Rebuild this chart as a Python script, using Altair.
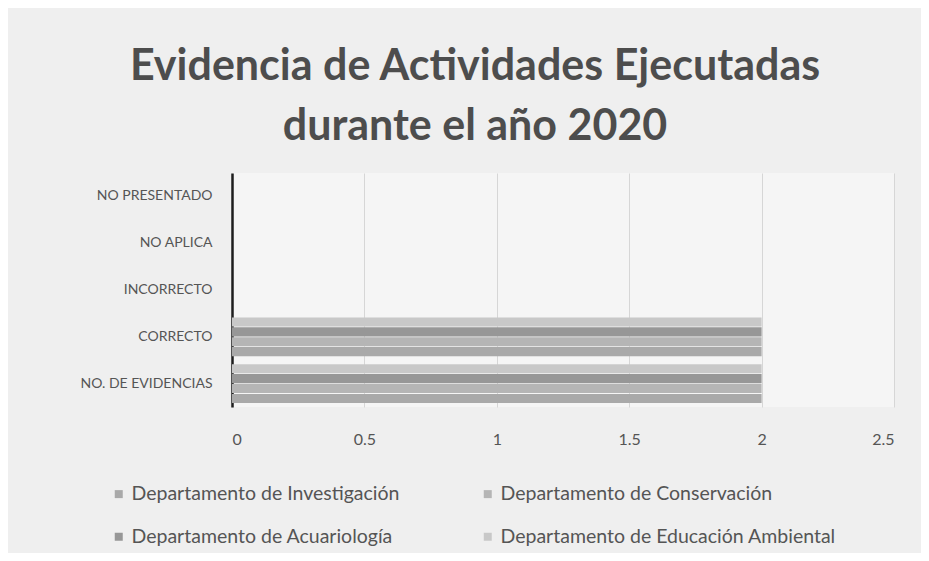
import altair as alt
import pandas as pd

categories = ["NO PRESENTADO", "NO APLICA", "INCORRECTO", "CORRECTO", "NO. DE EVIDENCIAS"]
series = [
    "Departamento de Investigación",
    "Departamento de Conservación",
    "Departamento de Acuariología",
    "Departamento de Educación Ambiental",
]
values = {
    "Departamento de Investigación":       [0, 0, 0, 2, 2],
    "Departamento de Conservación":        [0, 0, 0, 2, 2],
    "Departamento de Acuariología":        [0, 0, 0, 2, 2],
    "Departamento de Educación Ambiental": [0, 0, 0, 2, 2],
}
colors = ["#a9a9a9", "#b5b5b5", "#979797", "#c8c8c8"]
x_ticks = [0, 0.5, 1, 1.5, 2, 2.5]

rows = []
for s in series:
    for c, v in zip(categories, values[s]):
        rows.append({"categoria": c, "serie": s, "valor": v})
df = pd.DataFrame(rows)

FONT = "Lato"
TXT = "#555555"

chart = alt.Chart(df).mark_bar().encode(
    y=alt.Y("categoria:N", sort=categories, title=None,
            scale=alt.Scale(paddingInner=0.17, paddingOuter=0.085),
            axis=alt.Axis(domain=True, domainColor="#1e1e1e", domainWidth=2.5,
                          ticks=False, labelPadding=20, labelFontSize=14,
                          labelColor=TXT, labelFont=FONT, grid=False)),
    yOffset=alt.YOffset("serie:N", sort=list(reversed(series)),
                        scale=alt.Scale(paddingInner=0.08)),
    x=alt.X("valor:Q", title=None,
            scale=alt.Scale(domain=[0, 2.5], nice=False),
            axis=alt.Axis(values=x_ticks, labelExpr="datum.value", domain=False,
                          ticks=False, labelPadding=24, labelFontSize=16,
                          labelColor=TXT, labelFont=FONT, grid=True,
                          gridColor="#d6d6d6", gridWidth=1)),
    color=alt.Color("serie:N", sort=series,
                    scale=alt.Scale(domain=series, range=colors),
                    legend=alt.Legend(title=None, orient="none", legendX=-123, legendY=311,
                                      columns=2, direction="horizontal",
                                      symbolType="square", symbolSize=64,
                                      symbolStrokeWidth=0, labelFontSize=19.5,
                                      labelFont=FONT, labelColor=TXT, labelLimit=500,
                                      columnPadding=78, rowPadding=22, padding=0,
                                      gridAlign="each", labelOffset=3)),
).properties(
    width=662,
    height=234,
    title=alt.Title(["Evidencia de Actividades Ejecutadas", "durante el año 2020"],
                    fontSize=43, font=FONT, fontWeight="bold", color="#4d4d4d",
                    anchor="middle", dx=-88, offset=24, lineHeight=60),
    background="#efefef",
    padding={"left": 224, "top": 165, "right": 27, "bottom": 146},
    autosize=alt.AutoSizeParams(type="none"),
).configure_view(stroke=None, fill="#f5f5f5")

chart.save("out.html", embed_options={"renderer": "svg", "actions": False})
